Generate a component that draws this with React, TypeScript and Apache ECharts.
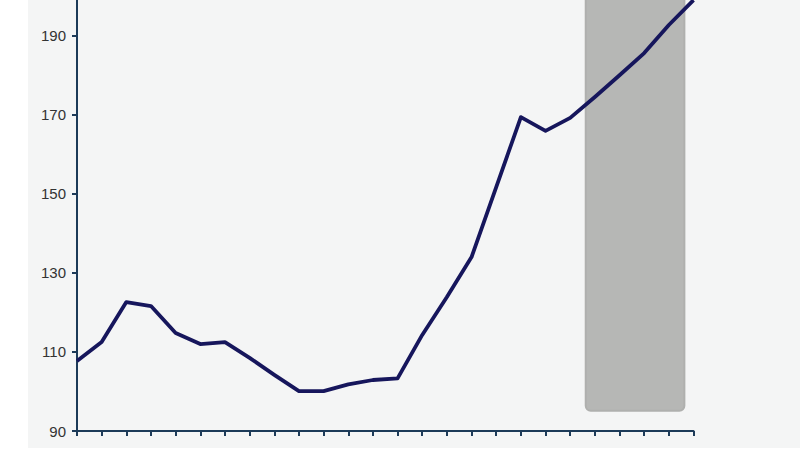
import React, { useEffect, useRef } from "react";
import * as echarts from "echarts";

const xIndex = Array.from({ length: 26 }, (_, i) => i);
const values = [
  107.7, 112.5, 122.6, 121.6, 114.8, 112.0, 112.5, 108.5, 104.2, 100.1,
  100.1, 101.8, 102.9, 103.3, 114.3, 123.9, 134.0, 151.7, 169.4, 165.9,
  169.2, 174.5, 180.0, 185.6, 192.7, 199.0,
];
// highlighted band: [xStart, xEnd, yBottom, yTop]
const band = [[20.63, 24.63, 95.1, 210]];
const visibleTickMax = 190;

export default function App() {
  const ref = useRef<HTMLDivElement>(null);
  useEffect(() => {
    if (!ref.current) return;
    const chart = echarts.init(ref.current, undefined, { renderer: "svg" });
    const axisColor = "#1c3a58";
    chart.setOption({
      animation: false,
      backgroundColor: "transparent",
      grid: { left: 77, right: 106.5, top: 6.6, bottom: 19, containLabel: false },
      xAxis: {
        type: "value",
        min: 0,
        max: 25,
        interval: 1,
        axisLine: { show: true, lineStyle: { color: axisColor, width: 2 } },
        axisTick: { show: true, length: 5, lineStyle: { color: axisColor, width: 2 } },
        axisLabel: { show: false },
        splitLine: { show: false },
      },
      yAxis: {
        type: "value",
        min: 90,
        max: 210,
        interval: 20,
        axisLine: { show: true, lineStyle: { color: axisColor, width: 2 } },
        axisTick: { show: true, length: 5, lineStyle: { color: axisColor, width: 2 } },
        axisLabel: {
          color: "#333333",
          fontSize: 15,
          fontFamily: "Liberation Sans, Arial, sans-serif",
          margin: 11,
          formatter: (v: number) => (v <= visibleTickMax ? String(v) : ""),
        },
        splitLine: { show: false },
      },
      series: [
        {
          type: "custom",
          z: 1,
          data: band,
          encode: { x: [0, 1], y: [2, 3] },
          renderItem: (params: any, api: any) => {
            const p1 = api.coord([api.value(0), api.value(3)]);
            const p2 = api.coord([api.value(1), api.value(2)]);
            return {
              type: "rect",
              shape: { x: p1[0], y: p1[1], width: p2[0] - p1[0], height: p2[1] - p1[1], r: 5 },
              style: { fill: "#b6b7b5", stroke: "#afb0ae", lineWidth: 2 },
            };
          },
        },
        {
          type: "line",
          z: 3,
          data: xIndex.map((x, i) => [x, values[i]]),
          showSymbol: false,
          symbol: "none",
          lineStyle: { color: "#16165c", width: 3.8, join: "round" },
        },
      ],
    });
    return () => chart.dispose();
  }, []);

  return (
    <div style={{ position: "fixed", left: 0, top: 0, width: 800, height: 450, background: "#ffffff", overflow: "hidden" }}>
      <div style={{ position: "absolute", left: 28, top: 0, width: 772, height: 448, background: "#f4f5f5" }} />
      <div ref={ref} style={{ position: "absolute", left: 0, top: -50, width: 800, height: 500 }} />
    </div>
  );
}
